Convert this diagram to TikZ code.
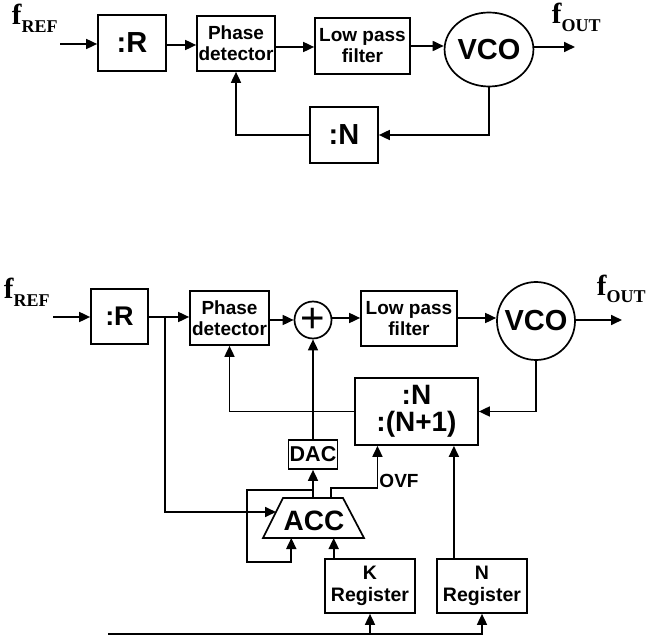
\documentclass[tikz,border=0pt]{standalone}
\usepackage{fontspec}
\setmainfont{Liberation Sans}
\newfontfamily\tnr{Liberation Serif}
\usetikzlibrary{arrows.meta,shapes.geometric,calc}
\begin{document}
\begin{tikzpicture}[x=1pt,y=-1pt,
  line width=1.7pt,
  arr/.style={-{Triangle[length=11pt,width=10pt]}},
  blk/.style={draw,inner sep=0pt,align=center,font=\bfseries\fontsize{19}{21}\selectfont},
  big/.style={draw,inner sep=0pt,align=center,font=\bfseries\fontsize{29}{29}\selectfont},
  sig/.style={inner sep=0pt,anchor=base west,font=\tnr\bfseries\fontsize{29}{29}\selectfont},
]
\useasboundingbox (0,0) rectangle (646,639);

% ---------- top diagram ----------
\node[big,minimum width=68pt,minimum height=56pt] (R1) at (132,43) {:R};
\node[blk,minimum width=78pt,minimum height=55pt] (PD1) at (236,43.5) {Phase\\detector};
\node[blk,minimum width=95pt,minimum height=56pt] (LPF1) at (362.5,46) {Low pass\\filter};
\node[big,ellipse,minimum width=78pt,minimum height=74pt] (VCO1) at (489,49.5) {VCO};
\node[big,minimum width=68pt,minimum height=56pt] (N1) at (344,135) {:N};
\node[sig] (fref1) at (11,25) {f\raisebox{-8pt}{\fontsize{18}{18}\selectfont REF}};
\node[sig] (fout1) at (551,24) {f\raisebox{-8pt}{\fontsize{18}{18}\selectfont OUT}};
\coordinate (in1) at (60,44);
\coordinate (out1) at (575,47);

\draw[arr] (in1) -- (in1 -| R1.west);
\draw[arr] (R1.east |- 0,45) -- (PD1.west |- 0,45);
\draw[arr] (PD1.east |- 0,47) -- (LPF1.west |- 0,47);
\draw[arr] (LPF1.east |- 0,46) -- (VCO1.west |- 0,46);
\draw[arr] (VCO1.east |- out1) -- (out1);
\draw[arr] (VCO1.south) |- (N1.east);
\draw[arr] (N1.west) -| (PD1.south);

% ---------- bottom diagram ----------
\node[big,minimum width=57pt,minimum height=55pt,font=\bfseries\fontsize{27}{27}\selectfont] (R2) at (119.5,316.5) {:R};
\node[blk,minimum width=79pt,minimum height=54pt] (PD2) at (229.5,318) {Phase\\detector};
\node[draw,circle,inner sep=0pt,minimum size=37pt,font=\fontsize{42}{42}\selectfont] (Sum) at (313,320) {+};
\node[blk,minimum width=96pt,minimum height=55pt] (LPF2) at (409,318.5) {Low pass\\filter};
\node[big,circle,minimum size=78pt] (VCO2) at (536,321) {VCO};
\node[big,minimum width=123pt,minimum height=67pt,font=\bfseries\fontsize{28}{27}\selectfont] (NN) at (416.5,411.5) {:N\\:(N+1)};
\node[big,minimum width=49pt,minimum height=29pt,font=\bfseries\fontsize{21.5}{21.5}\selectfont] (DAC) at (313,454.5) {DAC};
\node[blk,minimum width=90pt,minimum height=54pt,font=\bfseries\fontsize{19.5}{22}\selectfont] (KR) at (370,586) {K\\Register};
\node[blk,minimum width=90pt,minimum height=54pt,font=\bfseries\fontsize{19.5}{22}\selectfont] (NR) at (482,586) {N\\Register};
\node[sig] (fref2) at (3,299) {f\raisebox{-8pt}{\fontsize{18}{18}\selectfont REF}};
\node[sig] (fout2) at (596,296) {f\raisebox{-7pt}{\fontsize{18}{18}\selectfont OUT}};

% accumulator (trapezium)
\coordinate (accBL) at (263,538);
\coordinate (accTL) at (283,498);
\coordinate (accTR) at (343,498);
\coordinate (accBR) at (364,538);
\draw (accBL) -- (accTL) -- (accTR) -- (accBR) -- cycle;
\node[inner sep=0pt,font=\bfseries\fontsize{28}{28}\selectfont] (ACC) at (314,521) {ACC};
\node[inner sep=0pt,font=\bfseries\fontsize{19}{19}\selectfont] (OVF) at (399,481) {OVF};

\coordinate (in2) at (53,317);
\coordinate (out2) at (622,320);
\coordinate (br) at (165,317);
\coordinate (accin) at ($(accBL)!0.65!(accTL)$);
\coordinate (accT) at ($(accTL)!0.5!(accTR)$);
\coordinate (jn) at (313,490);
\coordinate (loop) at (247,562);
\coordinate (fb1) at ($(accBL)!0.28!(accBR)$);
\coordinate (kin) at ($(accBL)!0.7!(accBR)$);
\coordinate (ovfo) at ($(accTL)!0.8!(accTR)$);
\coordinate (nnin1) at ($(NN.south west)!0.187!(NN.south east)$);
\coordinate (nnin2) at ($(NN.south west)!0.8!(NN.south east)$);
\coordinate (bus) at (108,634);

\draw[arr] (in2) -- (in2 -| R2.west);
\draw[arr] (R2.east |- in2) -- (PD2.west |- in2);
\draw[arr] (br) |- (accin);
\draw[arr] (PD2.east |- Sum) -- (Sum.west);
\draw[arr] (Sum.east |- 0,318) -- (LPF2.west |- 0,318);
\draw[arr] (LPF2.east |- 0,318) -- (VCO2.west |- 0,318);
\draw[arr] (VCO2.east |- out2) -- (out2);
\draw[arr] (VCO2.south) |- (NN.east);
\draw[arr] (NN.west) -| (PD2.south);
\draw[arr] (DAC.north) -- (Sum.south);
\draw (accT) -- (jn);
\draw[arr] (jn) -- (DAC.south);
\draw[arr] (jn) -| (loop) -| (fb1);
\draw[arr] (ovfo) -- ++(0,-10) -| (nnin1);
\draw[arr] (nnin2 |- NR.north) -- (nnin2);
\draw[arr] (kin |- KR.north) -- (kin);
\draw[arr] (bus) -| (NR.south);
\draw[arr] (bus -| KR.south) -- (KR.south);
\end{tikzpicture}
\end{document}
